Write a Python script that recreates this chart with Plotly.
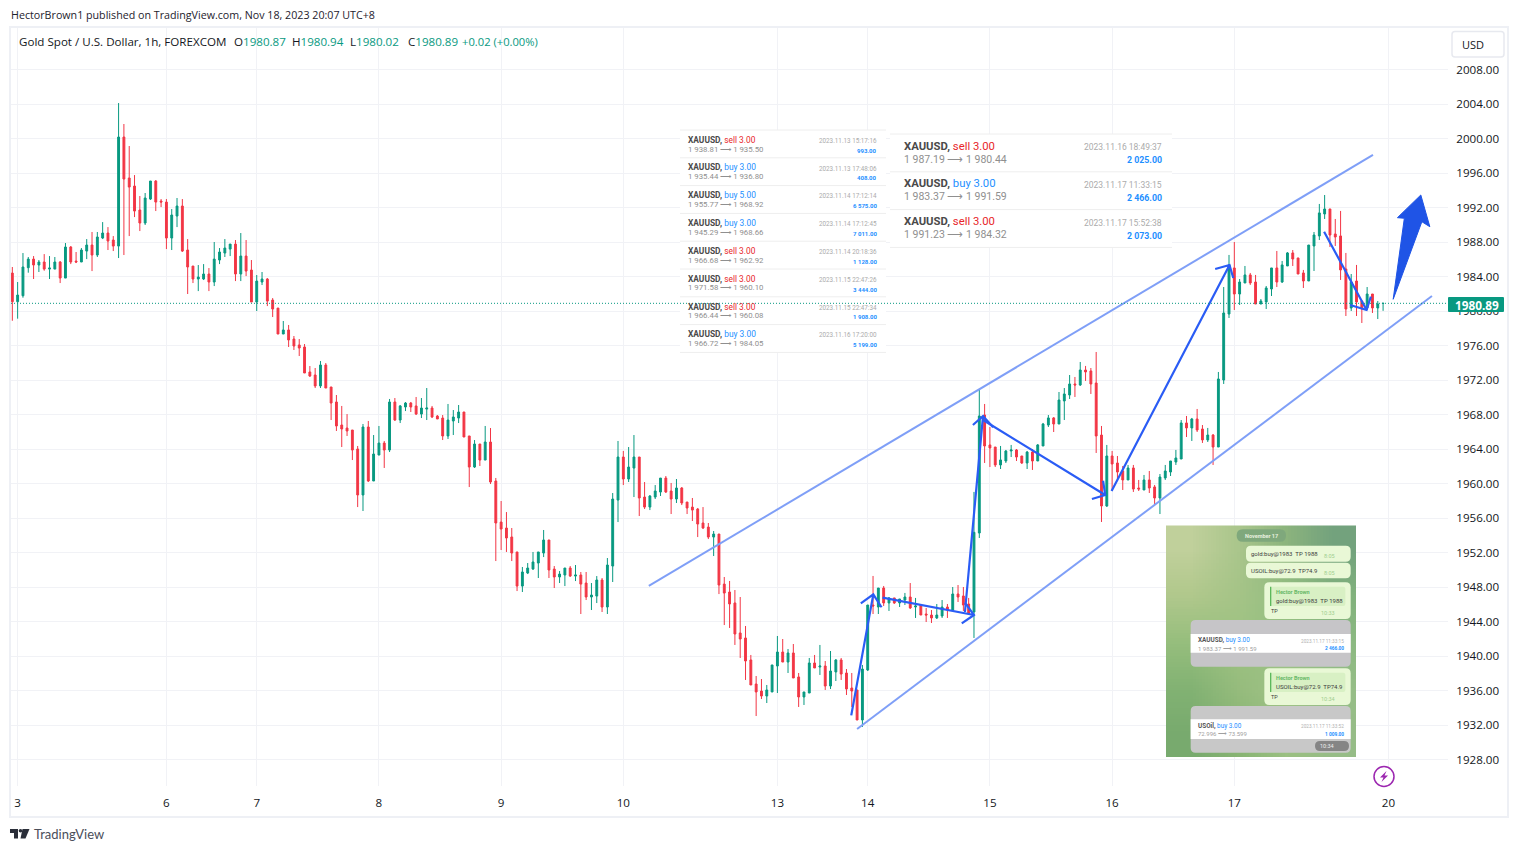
import base64, struct, zlib
import plotly.graph_objects as go

# ---------- Chart data ----------
open_ = [
1984.40,1981.08,1981.77,1985.02,1986.02,1985.33,1985.68,1984.86,1984.86,1985.68,
1983.82,1987.42,1985.79,1985.68,1986.95,1987.65,1986.49,1988.46,1989.04,1988.23,
1987.53,2000.17,1995.42,1994.49,1991.71,1990.20,1992.98,1995.07,1992.75,1992.63,
1988.46,1991.01,1992.17,1987.07,1985.21,1983.71,1983.71,1984.29,1983.36,1985.91,
1986.72,1987.18,1987.76,1984.29,1986.37,1984.75,1981.04,1983.36,1983.71,1981.27,
1980.34,1977.33,1977.80,1976.75,1976.06,1975.83,1972.93,1972.58,1971.31,1973.74,
1971.19,1969.45,1966.78,1966.43,1966.20,1964.00,1958.67,1966.55,1960.29,1963.30,
1964.69,1963.88,1969.45,1967.36,1968.87,1969.33,1968.99,1968.05,1968.63,1968.75,
1967.82,1967.59,1965.51,1967.25,1967.59,1968.29,1965.51,1961.91,1964.58,1962.72,
1964.81,1960.29,1955.53,1954.84,1953.80,1952.06,1948.11,1949.62,1950.09,1950.78,
1951.94,1953.45,1950.08,1949.16,1949.39,1950.20,1949.27,1949.39,1948.46,1946.84,
1946.95,1948.81,1945.68,1950.43,1958.08,1963.07,1960.52,1961.79,1963.07,1958.43,
1957.27,1958.43,1959.01,1960.63,1959.13,1958.20,1959.48,1957.85,1957.27,1957.04,
1955.42,1954.95,1953.79,1954.14,1948.34,1947.42,1946.15,1942.67,1942.09,1939.54,
1936.75,1935.94,1935.36,1935.83,1938.84,1940.46,1939.30,1940.35,1937.57,1935.25,
1935.71,1939.19,1938.72,1938.84,1936.52,1938.15,1939.54,1938.03,1936.29,1936.06,
1932.58,1938.38,1945.91,1945.68,1947.88,1946.15,1946.73,1946.15,1946.49,1946.84,
1945.68,1945.91,1944.87,1944.75,1944.41,1944.64,1945.68,1945.33,1947.19,1946.96,
1946.03,1945.10,1954.26,1967.94,1964.47,1964.23,1962.15,1962.61,1963.77,1963.89,
1963.19,1962.38,1963.65,1962.61,1964.35,1966.78,1967.60,1966.90,1969.57,1970.26,
1971.54,1971.42,1973.16,1973.05,1971.65,1965.62,1957.39,1963.19,1962.38,1961.45,
1960.41,1961.80,1959.48,1959.25,1960.41,1959.60,1958.32,1960.64,1961.33,1962.49,
1962.84,1967.02,1966.44,1967.48,1966.32,1965.05,1965.62,1964.23,1972.00,1979.65,
1984.99,1981.97,1983.25,1984.18,1983.36,1980.81,1981.05,1982.55,1984.99,1983.36,
1985.22,1986.73,1986.15,1984.41,1983.48,1987.54,1988.70,1991.25,1991.83,1988.93,
1988.70,1984.87,1980.35,1983.48,1981.16,1980.35,1981.97,1980.35,1980.87]
high = [
1985.10,1983.36,1986.72,1986.26,1986.37,1985.91,1986.60,1986.37,1986.26,1985.79,
1987.88,1987.53,1986.84,1987.30,1988.34,1989.16,1989.16,1990.31,1989.73,1988.69,
2004.11,2001.68,1999.13,1995.76,1993.33,1993.68,1995.07,1995.18,1992.98,1992.98,
1991.82,1993.10,1992.98,1988.34,1985.21,1985.33,1985.44,1984.98,1988.00,1987.30,
1988.34,1987.76,1988.23,1989.04,1988.23,1985.91,1984.17,1984.52,1983.82,1981.50,
1980.34,1978.84,1978.38,1977.10,1976.75,1976.17,1973.62,1973.39,1974.20,1973.97,
1971.19,1970.26,1968.99,1968.05,1966.20,1964.35,1966.90,1967.25,1965.62,1966.67,
1964.93,1969.80,1969.91,1969.10,1969.45,1969.45,1970.03,1969.91,1971.07,1968.99,
1967.94,1967.94,1969.22,1968.52,1969.10,1968.29,1965.51,1965.04,1964.58,1966.67,
1966.43,1960.64,1957.97,1956.69,1954.84,1952.06,1950.32,1950.78,1952.06,1952.06,
1954.61,1953.45,1950.43,1949.85,1950.20,1950.43,1950.55,1949.74,1949.74,1948.46,
1949.27,1949.04,1951.36,1958.90,1964.93,1963.77,1964.23,1965.62,1963.07,1960.17,
1958.66,1959.82,1960.63,1960.87,1960.06,1960.52,1959.59,1957.85,1958.32,1957.16,
1957.27,1955.42,1954.49,1954.14,1949.16,1948.70,1947.65,1946.84,1943.48,1940.12,
1937.68,1937.33,1936.64,1938.96,1942.32,1941.97,1940.81,1941.39,1938.03,1935.83,
1939.77,1940.12,1941.28,1939.42,1940.58,1939.65,1939.77,1938.49,1938.03,1936.06,
1938.96,1945.91,1949.28,1947.88,1948.12,1946.84,1946.73,1946.61,1947.31,1948.46,
1946.73,1945.91,1945.57,1945.33,1946.03,1946.49,1946.03,1948.00,1948.23,1948.00,
1946.73,1959.02,1970.96,1969.22,1966.55,1964.23,1964.35,1963.89,1964.47,1964.00,
1963.19,1963.77,1964.00,1964.58,1967.02,1967.94,1967.71,1970.61,1971.07,1972.58,
1972.35,1974.09,1973.63,1973.39,1975.25,1966.67,1964.47,1963.77,1963.19,1962.03,
1962.15,1962.15,1960.41,1960.99,1961.45,1959.83,1961.10,1962.15,1962.61,1963.89,
1967.36,1967.83,1967.60,1968.64,1966.78,1966.44,1965.74,1972.93,1982.78,1986.50,
1988.00,1983.71,1985.22,1984.41,1984.18,1981.39,1982.90,1984.99,1986.96,1985.80,
1986.84,1987.07,1986.15,1984.76,1987.65,1989.16,1992.41,1993.45,1991.83,1990.67,
1991.60,1986.73,1984.29,1985.34,1981.16,1982.78,1981.97,1981.16,1980.94]
low = [
1978.87,1979.11,1981.54,1984.44,1983.71,1984.52,1984.67,1983.71,1984.86,1983.24,
1983.82,1985.44,1985.56,1985.68,1986.02,1984.63,1986.26,1988.34,1987.07,1986.95,
1986.14,1986.49,1988.69,1990.89,1989.27,1989.97,1992.87,1991.59,1992.05,1987.18,
1987.07,1989.73,1986.84,1981.97,1983.24,1982.31,1983.59,1982.31,1982.89,1985.44,
1986.26,1986.37,1983.47,1983.47,1984.05,1981.04,1980.00,1983.01,1980.57,1979.30,
1977.33,1977.33,1975.83,1975.48,1974.78,1972.81,1972.35,1971.07,1971.07,1971.07,
1967.36,1966.09,1964.23,1965.51,1962.72,1957.27,1956.81,1960.17,1960.29,1963.30,
1961.80,1963.65,1967.25,1967.01,1968.40,1968.29,1967.94,1967.59,1967.36,1967.59,
1967.48,1965.04,1965.16,1965.62,1967.01,1965.39,1959.59,1961.80,1962.03,1962.72,
1959.94,1951.01,1952.29,1952.06,1951.01,1947.53,1947.42,1949.50,1949.97,1949.04,
1951.47,1949.04,1947.88,1948.46,1948.11,1949.16,1948.69,1944.87,1946.49,1945.33,
1946.14,1945.10,1944.87,1948.58,1955.53,1959.82,1960.17,1958.43,1956.23,1957.04,
1956.92,1958.20,1958.55,1958.90,1956.46,1957.74,1957.50,1956.46,1955.65,1953.79,
1954.72,1953.56,1951.59,1947.18,1943.59,1943.25,1941.28,1939.77,1937.22,1936.64,
1933.04,1935.01,1934.55,1935.83,1935.71,1939.30,1938.03,1937.45,1934.09,1934.32,
1935.71,1938.61,1937.80,1936.06,1936.17,1937.10,1937.22,1935.48,1934.09,1932.58,
1931.77,1938.26,1944.87,1944.87,1945.80,1945.22,1946.03,1945.68,1945.91,1945.45,
1944.41,1944.75,1943.94,1943.83,1944.29,1944.41,1944.41,1945.33,1946.26,1945.22,
1944.75,1942.09,1953.68,1962.38,1961.91,1961.91,1961.68,1962.38,1963.07,1962.61,
1962.26,1961.68,1961.57,1962.61,1964.35,1966.55,1965.97,1966.90,1967.36,1969.80,
1970.03,1971.31,1971.89,1970.38,1963.54,1955.54,1957.28,1959.25,1960.29,1959.25,
1960.41,1959.02,1959.13,1959.25,1958.90,1957.62,1956.46,1960.41,1960.87,1962.15,
1962.84,1965.39,1964.93,1965.97,1964.70,1964.81,1962.15,1964.23,1971.54,1979.19,
1980.12,1980.70,1983.25,1983.02,1980.81,1980.81,1980.23,1981.74,1982.78,1983.25,
1985.22,1985.22,1984.29,1982.67,1983.48,1984.64,1988.23,1990.67,1987.42,1987.54,
1983.60,1979.42,1980.00,1979.42,1978.61,1980.12,1979.77,1979.07,1980.02]
close = [
1981.08,1981.85,1985.10,1986.02,1985.33,1985.68,1984.86,1984.98,1985.68,1983.82,
1987.42,1985.68,1985.68,1987.07,1987.65,1986.49,1988.58,1989.04,1988.11,1987.53,
2000.17,1995.30,1994.37,1991.59,1990.20,1993.10,1995.07,1992.63,1992.63,1988.46,
1991.13,1992.17,1986.95,1985.10,1983.71,1983.94,1984.29,1983.36,1986.02,1986.84,
1987.30,1987.76,1984.29,1986.37,1984.63,1981.04,1983.47,1983.71,1981.15,1980.23,
1977.33,1977.80,1976.64,1975.94,1975.71,1972.81,1972.46,1971.31,1973.74,1971.07,
1969.33,1966.67,1966.32,1966.09,1963.88,1958.67,1966.55,1960.29,1963.42,1964.69,
1963.88,1969.45,1967.36,1968.99,1969.33,1968.87,1968.05,1968.75,1968.75,1967.71,
1967.48,1965.51,1967.36,1967.71,1968.29,1965.39,1961.91,1964.58,1962.72,1964.81,
1960.17,1955.42,1954.72,1953.68,1951.94,1948.11,1949.74,1950.20,1950.90,1952.06,
1953.45,1949.97,1949.16,1949.50,1950.20,1949.27,1949.39,1948.34,1946.84,1947.07,
1948.81,1945.68,1950.55,1958.20,1963.07,1960.52,1961.91,1963.07,1958.32,1957.27,
1958.55,1959.13,1960.63,1959.01,1958.20,1959.48,1957.74,1957.16,1956.92,1955.30,
1954.84,1953.79,1954.14,1948.23,1947.30,1946.03,1942.55,1941.97,1939.42,1936.64,
1935.83,1935.36,1936.06,1938.96,1940.46,1939.30,1940.35,1937.45,1935.25,1935.83,
1939.19,1938.61,1938.84,1936.52,1938.26,1939.54,1937.91,1936.17,1935.94,1932.58,
1938.49,1945.91,1945.80,1947.88,1946.15,1946.73,1946.15,1946.61,1946.84,1945.57,
1945.80,1944.75,1944.75,1944.41,1944.75,1945.68,1945.33,1947.19,1946.84,1945.91,
1944.87,1954.34,1967.83,1964.35,1964.12,1962.15,1962.73,1963.77,1963.89,1963.07,
1962.38,1963.65,1962.61,1964.47,1966.90,1967.60,1966.90,1969.68,1970.38,1971.54,
1971.42,1973.16,1972.93,1971.54,1965.51,1957.39,1963.19,1962.26,1961.33,1960.41,
1961.80,1959.36,1959.36,1960.41,1959.48,1958.32,1960.75,1961.45,1962.61,1962.96,
1967.02,1966.44,1967.48,1966.20,1965.05,1965.62,1964.23,1972.12,1979.77,1985.34,
1981.97,1983.36,1984.18,1983.25,1980.81,1981.16,1982.67,1984.99,1983.36,1985.34,
1986.73,1986.03,1984.29,1983.48,1987.65,1988.81,1991.37,1991.83,1988.81,1988.58,
1984.76,1980.23,1983.36,1981.05,1980.23,1981.97,1980.35,1980.81,1980.89]

bar_index = list(range(len(close)))
day_bars = [1, 29, 46, 69, 92, 115, 144, 161, 184, 207, 230, 259]
day_labels = ["3", "6", "7", "8", "9", "10", "13", "14", "15", "16", "17", "20"]
price_ticks = list(range(1928, 2012, 4))
last_price = 1980.89

# Drawings in (bar, price)
channel_upper = ([119.8, 256.1], [1948.12, 1998.09])
channel_lower = ([159.0, 267.2], [1931.54, 1981.74])
swing_arrows = [
    ([157.9, 162.05, 159.7, 162.05, 163.6], [1933.12, 1947.15, 1946.11, 1947.15, 1945.65]),
    ([163.8, 181.0, 178.7, 181.0, 179.3], [1946.76, 1944.75, 1943.79, 1944.75, 1946.18]),
    ([179.3, 182.7, 180.8, 182.7, 184.6], [1945.10, 1967.83, 1966.78, 1967.83, 1966.52]),
    ([182.7, 205.7, 203.2, 205.7, 205.3], [1967.36, 1958.67, 1958.20, 1958.67, 1960.32]),
    ([206.9, 229.1, 226.4, 229.1, 229.8], [1959.13, 1985.33, 1984.87, 1985.33, 1983.83]),
    ([246.9, 254.9, 251.8, 254.9, 255.7], [1989.19, 1980.12, 1980.70, 1980.12, 1981.66]),
]
big_arrow = ([259.9, 262.0, 260.7, 265.1, 266.8, 265.3, 259.9],
             [1981.36, 1990.75, 1990.82, 1993.45, 1989.77, 1990.35, 1981.36])

left_trades = [
    ("sell", "3.00", "1 938.81", "1 935.50", "2023.11.13 15:17:16", "993.00"),
    ("buy", "3.00", "1 935.44", "1 936.80", "2023.11.13 17:48:06", "408.00"),
    ("buy", "5.00", "1 955.77", "1 968.92", "2023.11.14 17:12:14", "6 575.00"),
    ("buy", "3.00", "1 945.29", "1 968.66", "2023.11.14 17:12:45", "7 011.00"),
    ("sell", "3.00", "1 966.68", "1 962.92", "2023.11.14 20:18:36", "1 128.00"),
    ("sell", "3.00", "1 971.58", "1 960.10", "2023.11.15 22:47:26", "3 444.00"),
    ("sell", "3.00", "1 966.44", "1 960.08", "2023.11.15 22:47:34", "1 908.00"),
    ("buy", "3.00", "1 966.72", "1 984.05", "2023.11.16 17:20:00", "5 199.00"),
]
right_trades = [
    ("sell", "3.00", "1 987.19", "1 980.44", "2023.11.16 18:49:37", "2 025.00"),
    ("buy", "3.00", "1 983.37", "1 991.59", "2023.11.17 11:33:15", "2 466.00"),
    ("sell", "3.00", "1 991.23", "1 984.32", "2023.11.17 15:52:38", "2 073.00"),
]

# ---------- Page geometry ----------
W, H = 1518, 852
L, R, T, B = 11, 1448, 28, 786
UP, DOWN = "#089981", "#F23645"
GRID = "#f1f2f6"
UI_FONT = "Open Sans"
NARROW = "Roboto"
ARROW = "⟶"

def fx(px):
    return (px - L) / (R - L)

def fy(py):
    return (B - py) / (B - T)

shapes, annos = [], []

def text(px, py, s, size=12, color="#131722", anchor="left", family=UI_FONT):
    annos.append(dict(x=fx(px), y=fy(py), xref="paper", yref="paper", text=s, showarrow=False,
                      xanchor=anchor, yanchor="middle", align=anchor,
                      font=dict(size=size, color=color, family=family),
                      borderpad=0, captureevents=False))

def rect(x0, y0, x1, y1, fill=None, line=None, width=1):
    shapes.append(dict(type="rect", xref="paper", yref="paper", x0=fx(x0), x1=fx(x1),
                       y0=fy(y0), y1=fy(y1), fillcolor=fill or "rgba(0,0,0,0)",
                       line=dict(color=line or "rgba(0,0,0,0)", width=width if line else 0),
                       layer="above"))

def rrect(x0, y0, x1, y1, r, fill, line=None, width=0):
    p = lambda a, b: f"{fx(a):.6f},{fy(b):.6f}"
    d = (f"M{p(x0 + r, y0)} L{p(x1 - r, y0)} Q{p(x1, y0)} {p(x1, y0 + r)} L{p(x1, y1 - r)} "
         f"Q{p(x1, y1)} {p(x1 - r, y1)} L{p(x0 + r, y1)} Q{p(x0, y1)} {p(x0, y1 - r)} "
         f"L{p(x0, y0 + r)} Q{p(x0, y0)} {p(x0 + r, y0)} Z")
    shapes.append(dict(type="path", xref="paper", yref="paper", path=d, fillcolor=fill,
                       line=dict(color=line or "rgba(0,0,0,0)", width=width), layer="above"))

def hline(x0, x1, y, color="#eeeeee", width=1):
    shapes.append(dict(type="line", xref="paper", yref="paper", x0=fx(x0), x1=fx(x1),
                       y0=fy(y), y1=fy(y), line=dict(color=color, width=width), layer="above"))

def poly(points, fill):
    d = "M" + " L".join(f"{fx(a):.5f},{fy(b):.5f}" for a, b in points) + " Z"
    shapes.append(dict(type="path", xref="paper", yref="paper", path=d, fillcolor=fill,
                       line=dict(width=0), layer="above"))

def side_color(side):
    return "#e8262a" if side == "sell" else "#1e8fff"

def trade_table(rows, x0, x1, tops, step, pad_l, pad_r, s1, s2, s3, s4, dy1, dy2):
    rect(x0, tops, x1, tops + step * len(rows), fill="#ffffff")
    for k, (side, lot, a, b, when, amount) in enumerate(rows):
        y = tops + step * k
        hline(x0, x1, y)
        text(x0 + pad_l, y + dy1,
             f"<b><span style='color:#4a4a4a'>XAUUSD,</span></b> "
             f"<span style='color:{side_color(side)}'>{side} {lot}</span>",
             size=s1, family=NARROW)
        text(x0 + pad_l, y + dy2, f"{a} {ARROW} {b}", size=s2, color="#8f8f8f", family=NARROW)
        text(x1 - pad_r, y + dy1 + 1, when, size=s3, color="#ababab", anchor="right", family=NARROW)
        text(x1 - pad_r, y + dy2 + 1, f"<b>{amount}</b>", size=s4, color="#1e8fff", anchor="right", family=NARROW)
    hline(x0, x1, tops + step * len(rows))

# frame
rect(10, 27, 1508, 817, line="#eef0f5", width=2)

# trade tables
trade_table(left_trades, 680, 886, 130, 27.8, 7, 8, 8.4, 7.8, 6.3, 6, 9.7, 19)
trade_table(right_trades, 890, 1172, 134, 37.8, 13, 9, 11.3, 10.5, 8.5, 8.8, 12, 25)

# chat screenshot: soft background built as a tiny PNG
grid = [
    [(192, 208, 155), (170, 198, 140), (140, 180, 125), (115, 162, 125)],
    [(176, 200, 140), (165, 196, 135), (148, 190, 130), (130, 178, 125)],
    [(150, 190, 125), (158, 195, 130), (150, 192, 130), (140, 185, 130)],
    [(130, 178, 115), (150, 188, 125), (160, 195, 135), (150, 190, 135)],
    [(120, 170, 110), (135, 180, 115), (155, 192, 130), (150, 188, 135)],
]
raw = b"".join(b"\x00" + bytes(v for px in row for v in px) for row in grid)

def chunk(tag, data):
    return struct.pack(">I", len(data)) + tag + data + struct.pack(">I", zlib.crc32(tag + data) & 0xffffffff)

png = (b"\x89PNG\r\n\x1a\n" + chunk(b"IHDR", struct.pack(">IIBBBBB", 4, 5, 8, 2, 0, 0, 0))
       + chunk(b"IDAT", zlib.compress(raw)) + chunk(b"IEND", b""))
chat_bg = "data:image/png;base64," + base64.b64encode(png).decode()
images = [dict(source=chat_bg, xref="paper", yref="paper", x=fx(1166), y=fy(525.5),
               sizex=190 / (R - L), sizey=231.5 / (B - T), sizing="stretch",
               xanchor="left", yanchor="top", layer="above")]

def zx(z):
    return 1160 + z / 3

def zy(z):
    return 520 + z / 3

def zrect(a, b, c, d, fill, r=0):
    if r:
        rrect(zx(a), zy(b), zx(c), zy(d), r, fill)
    else:
        rect(zx(a), zy(b), zx(c), zy(d), fill=fill)

BUBBLE = "#e9f8d6"
CHAT = "Roboto"
zrect(230, 28, 378, 65, "#7fa87c", 6)
text(zx(304), zy(47), "<b>November 17</b>", 5.5, "#e6f0df", "center", CHAT)
zrect(258, 77, 572, 125, BUBBLE, 5)
text(zx(270), zy(101), "gold:buy@1983  TP 1988", 6, "#3c3c3c", family=CHAT)
text(zx(508), zy(108), "8:05", 5.5, "#9fce8f", "center", CHAT)
zrect(258, 128, 572, 175, BUBBLE, 5)
text(zx(270), zy(152), "USOIL:buy@72.9  TP74.9", 6, "#3c3c3c", family=CHAT)
text(zx(508), zy(158), "8:05", 5.5, "#9fce8f", "center", CHAT)
zrect(313, 187, 572, 297, BUBBLE, 5)
zrect(330, 200, 556, 258, "#d8f0c4", 2)
zrect(330, 200, 334, 258, "#5cb85c")
text(zx(344), zy(216), "<b>Hector Brown</b>", 5.5, "#68b868", family=CHAT)
text(zx(344), zy(242), "gold:buy@1983  TP 1988", 6, "#3c3c3c", family=CHAT)
text(zx(330), zy(272), "TP", 5.5, "#3c3c3c", family=CHAT)
text(zx(503), zy(280), "10:33", 5.5, "#9fce8f", "center", CHAT)
zrect(92, 300, 572, 440, "#c6c5c8", 5)
zrect(92, 342, 572, 398, "#ffffff")
text(zx(110), zy(360), "<b><span style='color:#555'>XAUUSD,</span></b> <span style='color:#1e8fff'>buy 3.00</span>", 6.4, family=NARROW)
text(zx(110), zy(384), f"1 983.37 {ARROW} 1 991.59", 6, "#a0a0a0", family=NARROW)
text(zx(555), zy(363), "2023.11.17 11:33:15", 4.7, "#b0b0b0", "right", family=NARROW)
text(zx(555), zy(385), "<b>2 466.00</b>", 4.8, "#1e8fff", "right", family=NARROW)
zrect(313, 445, 572, 555, BUBBLE, 5)
zrect(330, 458, 556, 516, "#d8f0c4", 2)
zrect(330, 458, 334, 516, "#5cb85c")
text(zx(344), zy(474), "<b>Hector Brown</b>", 5.5, "#68b868", family=CHAT)
text(zx(344), zy(499), "USOIL:buy@72.9  TP74.9", 6, "#3c3c3c", family=CHAT)
text(zx(330), zy(530), "TP", 5.5, "#3c3c3c", family=CHAT)
text(zx(503), zy(538), "10:34", 5.5, "#9fce8f", "center", CHAT)
zrect(92, 558, 572, 698, "#c8c8c8", 5)
zrect(92, 598, 572, 657, "#ffffff")
text(zx(110), zy(618), "<b><span style='color:#555'>USOil,</span></b> <span style='color:#1e8fff'>buy 3.00</span>", 6.4, family=NARROW)
text(zx(110), zy(641), f"72.996 {ARROW} 73.599", 6, "#a0a0a0", family=NARROW)
text(zx(555), zy(619), "2023.11.17 11:33:52", 4.7, "#b0b0b0", "right", family=NARROW)
text(zx(555), zy(642), "<b>1 009.00</b>", 4.8, "#1e8fff", "right", family=NARROW)
zrect(465, 663, 567, 693, "#858585", 5)
text(zx(500), zy(678), "10:34", 5.5, "#eeeeee", "center", CHAT)

# last price dotted line
shapes.append(dict(type="line", xref="paper", yref="y", x0=0, x1=1, y0=last_price, y1=last_price,
                   line=dict(color=UP, width=1, dash="1px,2px"), layer="above"))

# price label
rrect(1448, 297, 1504, 312, 1, UP)
text(1477, 304.5, "<b>1980.89</b>", 11.8, "#ffffff", "center")

# USD box
rrect(1452, 31.5, 1504, 57, 3, "#ffffff", line="#e7e9ef", width=1.5)
text(1461, 44.5, "USD", 11, "#131722")

# lightning mark
shapes.append(dict(type="circle", xref="paper", yref="paper", x0=fx(1374), x1=fx(1394),
                   y0=fy(766.5), y1=fy(786.5), fillcolor="#ffffff",
                   line=dict(color="#9c27b0", width=1.5), layer="above"))
poly([(1386.5, 771), (1380, 777.5), (1383.5, 777.5), (1381.5, 782), (1388, 775.5), (1384.5, 775.5)], "#9c27b0")

# header texts
text(10, 15, "HectorBrown1 published on TradingView.com, Nov 18, 2023 20:07 UTC+8", 10.7, "#1e222d")
g = lambda s: f"<span style='color:{UP}'>{s}</span>"
HEAD = 11.6
text(18, 41.5, "Gold Spot / U.S. Dollar, 1h, FOREXCOM", HEAD, "#131722")
text(233, 41.5, "O" + g("1980.87"), HEAD)
text(291, 41.5, "H" + g("1980.94"), HEAD)
text(349, 41.5, "L" + g("1980.02"), HEAD)
text(407, 41.5, "C" + g("1980.89"), HEAD)
text(461, 41.5, g("+0.02 (+0.00%)"), 11.2)

# TradingView mark
poly([(10, 829), (18, 829), (18, 838.5), (14, 838.5), (14, 833), (10, 833)], "#2a2e39")
poly([(22.5, 829), (29.5, 829), (25.5, 838.5), (20.5, 838.5)], "#2a2e39")
shapes.append(dict(type="circle", xref="paper", yref="paper", x0=fx(18.7), x1=fx(22.3),
                   y0=fy(829), y1=fy(832.6), fillcolor="#2a2e39", line=dict(width=0), layer="above"))
text(33, 834, "TradingView", 13, "#4a4e5a", family="Lato")

# ---------- Figure ----------
fig = go.Figure()
fig.add_trace(go.Candlestick(
    x=bar_index, open=open_, high=high, low=low, close=close,
    increasing=dict(line=dict(color=UP, width=1), fillcolor=UP),
    decreasing=dict(line=dict(color=DOWN, width=1), fillcolor=DOWN),
    whiskerwidth=0, hoverinfo="skip", showlegend=False))

for xs, ys in (channel_upper, channel_lower):
    fig.add_trace(go.Scatter(x=xs, y=ys, mode="lines", line=dict(color="#7f9ff7", width=2),
                             hoverinfo="skip", showlegend=False))
for xs, ys in swing_arrows:
    fig.add_trace(go.Scatter(x=xs, y=ys, mode="lines", line=dict(color="#2a5cf5", width=2.2),
                             hoverinfo="skip", showlegend=False))
fig.add_trace(go.Scatter(x=big_arrow[0], y=big_arrow[1], mode="lines", fill="toself",
                         fillcolor="#1f54e6", line=dict(color="#1f54e6", width=1),
                         hoverinfo="skip", showlegend=False))

fig.update_layout(
    width=W, height=H, paper_bgcolor="#ffffff", plot_bgcolor="#ffffff",
    margin=dict(l=L, r=W - R, t=T, b=H - B, pad=0), showlegend=False, boxgap=0.5,
    font=dict(family=UI_FONT, size=12, color="#131722"),
    shapes=shapes, annotations=annos, images=images,
    xaxis=dict(range=[(L - 12.33) / 5.313, (R - 12.33) / 5.313], type="linear",
               rangeslider=dict(visible=False), tickmode="array", tickvals=day_bars,
               ticktext=day_labels, showgrid=True, gridcolor=GRID, gridwidth=1,
               zeroline=False, showline=False, ticks="outside", ticklen=6,
               tickcolor="rgba(0,0,0,0)", tickfont=dict(size=11.6, color="#131722", family=UI_FONT)),
    yaxis=dict(range=[2008 - (B - 69.5) / 8.625, 2008 + (69.5 - T) / 8.625], side="right",
               tickmode="array", tickvals=price_ticks, ticktext=[f"{v}.00" for v in price_ticks],
               showgrid=True, gridcolor=GRID, gridwidth=1, zeroline=False, showline=False,
               ticks="outside", ticklen=5, tickcolor="rgba(0,0,0,0)",
               tickfont=dict(size=11.6, color="#131722", family=UI_FONT)),
)

fig.write_html("out.html", config=dict(displayModeBar=False),
               post_script="document.body.style.margin='0';document.body.style.overflow='hidden';")
